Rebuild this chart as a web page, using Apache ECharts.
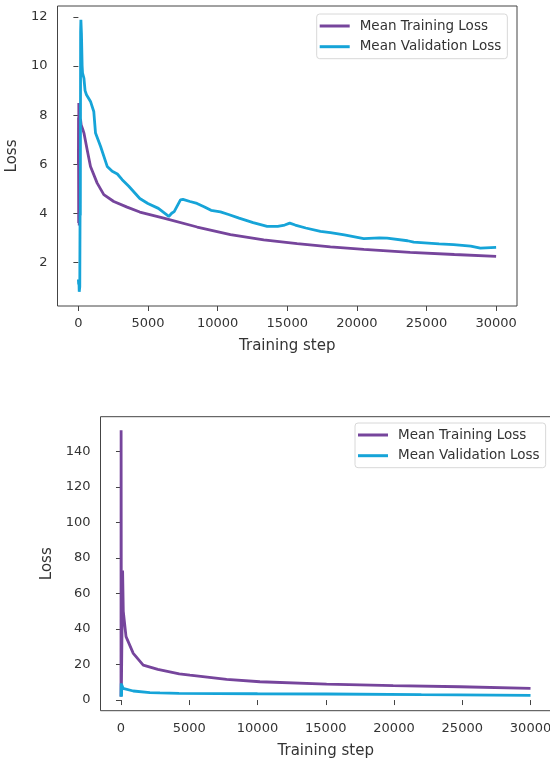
<!DOCTYPE html>
<html>
<head>
<meta charset="utf-8">
<script src="https://cdn.jsdelivr.net/npm/echarts@6/dist/echarts.min.js"></script>
<style>
  html, body { margin: 0; padding: 0; background: #fff; }
  #chart { width: 550px; height: 758px; }
</style>
</head>
<body>
<div id="chart"></div>
<script>
// tick labels
const xTicks = [0, 5000, 10000, 15000, 20000, 25000, 30000];
const topYTicks = [2, 4, 6, 8, 10, 12];
const bottomYTicks = [0, 20, 40, 60, 80, 100, 120, 140];

// top chart - mean training loss
const topTrainSteps = [0, 10, 20, 30, 40, 50, 60, 80, 100, 150, 200, 300, 400, 630, 870, 1350, 1825, 2540, 3500, 4410, 6130, 8530, 10920, 13310, 15710, 18100, 20500, 23825, 27000, 30000];
const topTrainLoss = [6.0, 7.9, 3.6, 8.5, 4.2, 7.8, 3.5, 7.9, 7.5, 7.85, 7.6, 7.45, 7.27, 6.59, 5.91, 5.23, 4.76, 4.48, 4.25, 4.05, 3.8, 3.44, 3.13, 2.92, 2.76, 2.63, 2.53, 2.41, 2.32, 2.24];

// top chart - mean validation loss
const topValSteps = [0, 20, 40, 60, 80, 100, 120, 140, 160, 180, 220, 270, 300, 340, 400, 480, 580, 870, 1105, 1230, 1590, 2070, 2430, 2800, 3145, 3620, 4410, 4990, 5746, 6491, 6700, 6880, 7000, 7331, 7510, 8014, 8518, 9022, 9526, 10203, 10786, 11542, 12550, 13556, 14314, 14818, 15180, 15574, 16330, 17383, 18100, 19102, 20493, 21622, 22170, 23638, 24080, 25906, 26950, 28174, 28870, 30000];
const topValLoss = [1.3, 1.1, 1.25, 0.8, 0.78, 1.0, 4.0, 3.9, 11.4, 11.89, 11.33, 10.0, 9.71, 9.75, 9.5, 9.0, 8.83, 8.56, 8.15, 7.27, 6.73, 5.91, 5.71, 5.6, 5.37, 5.1, 4.6, 4.4, 4.2, 3.87, 4.0, 4.07, 4.14, 4.55, 4.57, 4.48, 4.4, 4.27, 4.12, 4.06, 3.95, 3.8, 3.62, 3.47, 3.47, 3.52, 3.6, 3.52, 3.4, 3.26, 3.21, 3.12, 2.97, 3.0, 2.99, 2.88, 2.82, 2.75, 2.72, 2.66, 2.58, 2.61];

// bottom chart - mean training loss
const bottomTrainSteps = [0, 10, 30, 120, 170, 370, 900, 1630, 2700, 4270, 5050, 7740, 10180, 15060, 19940, 24820, 30000];
const bottomTrainLoss = [2, 152, 5, 73, 50, 35.7, 26.3, 19.7, 17.3, 14.8, 14.0, 11.6, 10.3, 9.0, 8.1, 7.5, 6.6];

// bottom chart - mean validation loss
const bottomValSteps = [0, 20, 40, 60, 150, 900, 2120, 2850, 4250, 10000, 15060, 22000, 30000];
const bottomValLoss = [1.9, 9.4, 2.0, 8.5, 6.6, 5.1, 4.2, 4.0, 3.8, 3.55, 3.4, 3.0, 2.6];

const trainColor = '#76459c';
const valColor = '#16a4d8';
const font = 'DejaVu Sans';

const zip = (xs, ys) => xs.map((x, i) => [x, ys[i]]);

const xAxisFor = (gridIndex, nameGap) => ({
    type: 'value',
    gridIndex: gridIndex,
    min: -1500,
    max: 31500,
    name: 'Training step',
    nameLocation: 'middle',
    nameGap: nameGap,
    nameTextStyle: { fontFamily: font, fontSize: 15, color: '#333' },
    axisLine: { show: false },
    axisTick: { show: true, length: 5, lineStyle: { color: '#444' }, customValues: xTicks },
    axisLabel: { fontFamily: font, fontSize: 13, color: '#333', margin: 11, customValues: xTicks, formatter: v => String(v) },
    splitLine: { show: false }
});

const yAxisFor = (gridIndex, min, max, ticks, nameGap) => ({
    type: 'value',
    gridIndex: gridIndex,
    min: min,
    max: max,
    name: 'Loss',
    nameLocation: 'middle',
    nameGap: nameGap,
    nameTextStyle: { fontFamily: font, fontSize: 15, color: '#333' },
    axisLine: { show: false },
    axisTick: { show: true, length: 5, lineStyle: { color: '#444' }, customValues: ticks },
    axisLabel: { fontFamily: font, fontSize: 13, color: '#333', margin: 10, customValues: ticks, formatter: v => String(v) },
    splitLine: { show: false }
});

const legendFor = (left, top) => ({
    left: left,
    top: top,
    orient: 'vertical',
    icon: 'rect',
    itemWidth: 30,
    itemHeight: 3,
    itemGap: 4.7,
    padding: [4, 6, 4, 3],
    backgroundColor: 'rgba(255,255,255,0.8)',
    borderColor: '#d8d8d8',
    borderWidth: 1,
    borderRadius: 3,
    selectedMode: false,
    textStyle: { fontFamily: font, fontSize: 13.5, color: '#333', lineHeight: 16, padding: [0, 0, 0, 5] },
    data: ['Mean Training Loss', 'Mean Validation Loss']
});

const lineSeries = (name, color, axisIndex, data) => ({
    name: name,
    type: 'line',
    xAxisIndex: axisIndex,
    yAxisIndex: axisIndex,
    symbol: 'none',
    animation: false,
    lineStyle: { color: color, width: 2.8 },
    itemStyle: { color: color },
    data: data
});

const option = {
    backgroundColor: '#fff',
    animation: false,
    grid: [
        { left: 57.5, top: 6, width: 459.5, height: 300, show: true, borderColor: '#444', borderWidth: 1, backgroundColor: 'transparent', containLabel: false, outerBoundsMode: 'none' },
        { left: 100.5, top: 416.7, width: 450.5, height: 294, show: true, borderColor: '#444', borderWidth: 1, backgroundColor: 'transparent', containLabel: false, outerBoundsMode: 'none' }
    ],
    legend: [legendFor(316.7, 14), legendFor(355, 423)],
    xAxis: [xAxisFor(0, 33), xAxisFor(1, 33)],
    yAxis: [
        yAxisFor(0, 0.22, 12.45, topYTicks, 35),
        yAxisFor(1, -6, 159.6, bottomYTicks, 46)
    ],
    series: [
        lineSeries('Mean Training Loss', trainColor, 0, zip(topTrainSteps, topTrainLoss)),
        lineSeries('Mean Validation Loss', valColor, 0, zip(topValSteps, topValLoss)),
        lineSeries('Mean Training Loss', trainColor, 1, zip(bottomTrainSteps, bottomTrainLoss)),
        lineSeries('Mean Validation Loss', valColor, 1, zip(bottomValSteps, bottomValLoss))
    ]
};

const myChart = echarts.init(document.getElementById('chart'), null, { renderer: 'canvas' });
myChart.setOption(option);
</script>
</body>
</html>
